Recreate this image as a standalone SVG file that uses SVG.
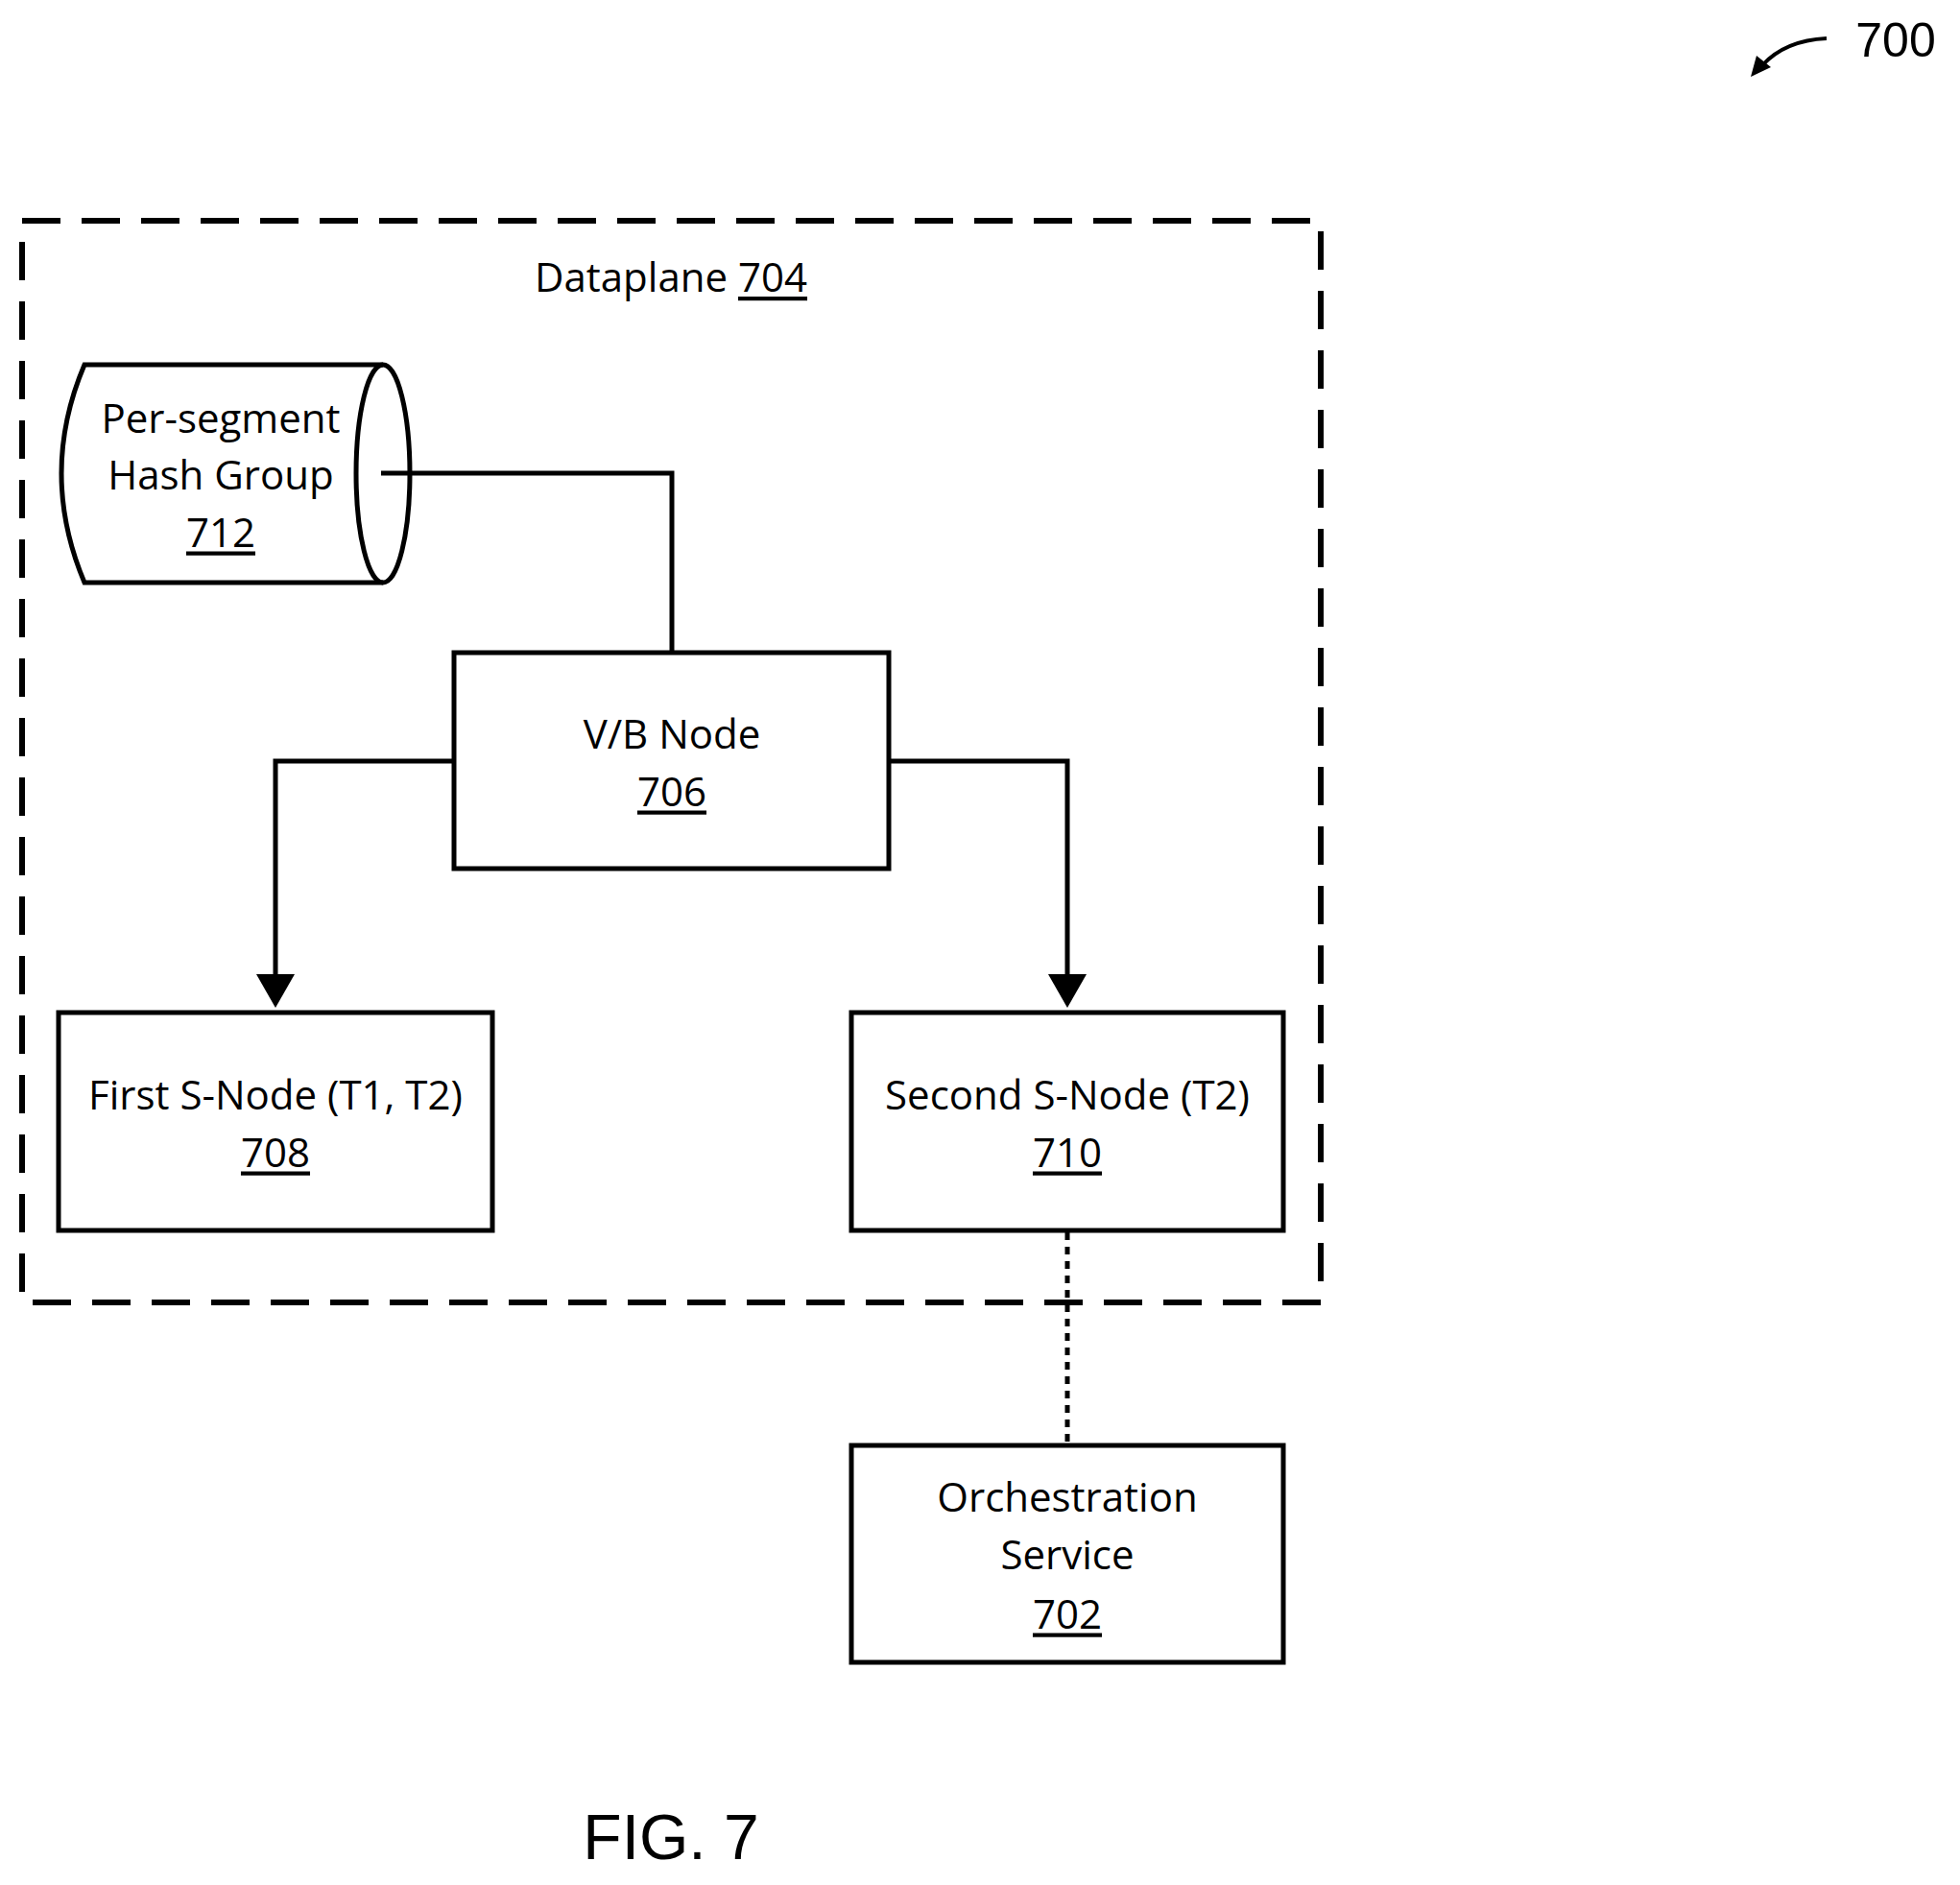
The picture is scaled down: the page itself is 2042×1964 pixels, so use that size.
<svg xmlns="http://www.w3.org/2000/svg" width="2042" height="1964" viewBox="0 0 2042 1964">
<style>
.b{fill:#fff;stroke:#000;stroke-width:5}
.t{font-family:"Open Sans","Liberation Sans",sans-serif;font-size:42px;text-anchor:middle;dominant-baseline:central;fill:#000}
.u{text-decoration:underline}
.c{fill:none;stroke:#000;stroke-width:5}
</style>
<defs><marker id="a" markerWidth="8" markerHeight="8" refX="6" refY="4" orient="auto" markerUnits="strokeWidth"><path d="M0,0 L7,4 L0,8 z" fill="#000"/></marker></defs>
<rect fill="#fff" width="2042" height="1964"/>
<g id="dataplane"><rect x="23" y="230" width="1353" height="1127" fill="none" stroke="#000" stroke-width="6" stroke-dasharray="40,22"/>
<text class="t" x="699" y="287">Dataplane <tspan class="u">704</tspan></text></g>
<g id="n712"><path class="b" d="M88,380 H399 A28,113.5 0 0 1 399,607 H88 Q40,493 88,380 z"/><path class="c" d="M399,380 A28,113.5 0 0 0 399,607"/>
<text class="t" x="230" y="434">Per-segment</text><text class="t" x="230" y="493">Hash Group</text><text class="t u" x="230" y="553">712</text></g>
<g id="n706"><rect class="b" x="473" y="680" width="453" height="225"/><text class="t" x="700" y="763">V/B Node</text><text class="t u" x="700" y="823">706</text></g>
<g id="n708"><rect class="b" x="61" y="1055" width="452" height="227"/><text class="t" x="287" y="1139">First S-Node (T1, T2)</text><text class="t u" x="287" y="1199">708</text></g>
<g id="n710"><rect class="b" x="887" y="1055" width="450" height="227"/><text class="t" x="1112" y="1139">Second S-Node (T2)</text><text class="t u" x="1112" y="1199">710</text></g>
<g id="n702"><rect class="b" x="887" y="1506" width="450" height="226"/><text class="t" x="1112" y="1558">Orchestration</text><text class="t" x="1112" y="1618">Service</text><text class="t u" x="1112" y="1680">702</text></g>
<g id="connectors">
<path class="c" d="M397,493 H700 V680"/>
<path class="c" d="M473,793 H287 V1045" marker-end="url(#a)"/>
<path class="c" d="M926,793 H1112 V1045" marker-end="url(#a)"/>
<path class="c" d="M1112,1284 V1504" stroke-dasharray="8,7"/>
</g>
<g id="label700"><text x="1975" y="42" font-family="Liberation Sans,Arial,sans-serif" font-size="50" text-anchor="middle" dominant-baseline="central">700</text>
<path d="M1903,40 Q1860,42 1836,68" fill="none" stroke="#000" stroke-width="4"/><path d="M1824,80 L1830,58 L1845,70 z" fill="#000"/></g>
<text x="699" y="1914" font-family="Liberation Sans,Arial,sans-serif" font-size="66" text-anchor="middle" dominant-baseline="central">FIG. 7</text>
</svg>
